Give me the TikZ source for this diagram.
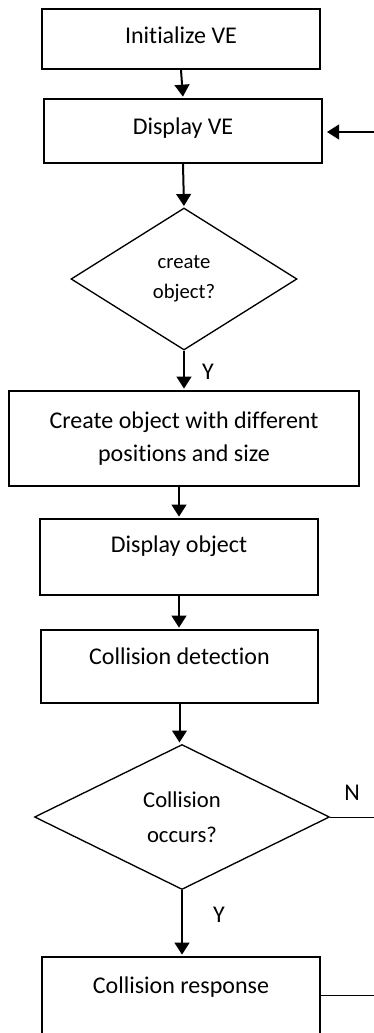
\documentclass[tikz,border=0pt]{standalone}
\usepackage{fontspec}
\setmainfont{Carlito}[Ligatures=NoCommon]
\usetikzlibrary{shapes.geometric,arrows.meta,positioning}

\begin{document}
\begin{tikzpicture}[
    x=0.75pt, y=-0.75pt,
    line width=1.5pt,
    font=\fontsize{18}{24.75}\selectfont,
    %
    box/.style={draw=black, rectangle, minimum width=208.5pt, align=center,
                inner sep=2pt, text height=11.5pt, text depth=0pt},
    decision/.style={draw=black, diamond, line width=1pt, inner sep=0pt, align=center},
    %
    flow/.style={-{Triangle[width=11pt,length=9pt]}, shorten >=1pt},
    exit/.style={line width=0.75pt},
    yesno/.style={inner sep=0pt}
    ]

    \useasboundingbox (0,0) rectangle (374,1033);

    \node[box, minimum height=45pt, text depth=4.5pt] (init) at (181,39) {Initialize VE};
    \node[box, minimum height=48pt, text depth=6pt] (dispve) at (183,131) {Display VE};
    \node[decision, minimum width=169.5pt, minimum height=106.5pt,
          font=\fontsize{15.5}{22.5}\selectfont] (askcreate) at (184,279) {create\\object?};
    \node[box, minimum width=262.5pt, minimum height=71.25pt, text height=, text depth=]
          (create) at (184,438.5) {Create object with different\\positions and size};
    \node[box, minimum height=57pt, text depth=18pt] (dispobj) at (179,557) {Display object};
    \node[box, minimum width=207.75pt, minimum height=54.75pt, text depth=14pt]
          (detect) at (179.5,666.5) {Collision detection};
    \node[decision, minimum width=221.25pt, minimum height=108.75pt,
          font=\fontsize{17}{26}\selectfont] (occurs) at (182,817) {Collision\\occurs?};
    \node[box, minimum height=57.75pt, text depth=15pt] (response) at (181,995.5) {Collision response};
    %
    \coordinate (loop) at (374,132);

    \draw[flow] (init.south) -- (dispve.north);
    \draw[flow] (dispve.south) -- (askcreate.north);
    \draw[flow] (askcreate.south) -- (create.north);
    \draw[flow] (dispobj.north |- create.south) -- (dispobj.north);
    \draw[flow] (dispobj.south) -- (dispobj.south |- detect.north);
    \draw[flow] (detect.south) -- (detect.south |- occurs.north);
    \draw[flow] (occurs.south) -- (occurs.south |- response.north);
    \draw[flow, shorten >=3pt] (loop) -- (loop -| dispve.east);
    %
    \draw[exit] (occurs.east) -- (occurs.east -| loop);
    \draw[exit] (response.east) -- (response.east -| loop);

    \node[yesno] (ycreate) at (208,372) {Y};
    \node[yesno] (yoccurs) at (219,915) {Y};
    \node[yesno] (noccurs) at (352,793) {N};

\end{tikzpicture}
\end{document}
